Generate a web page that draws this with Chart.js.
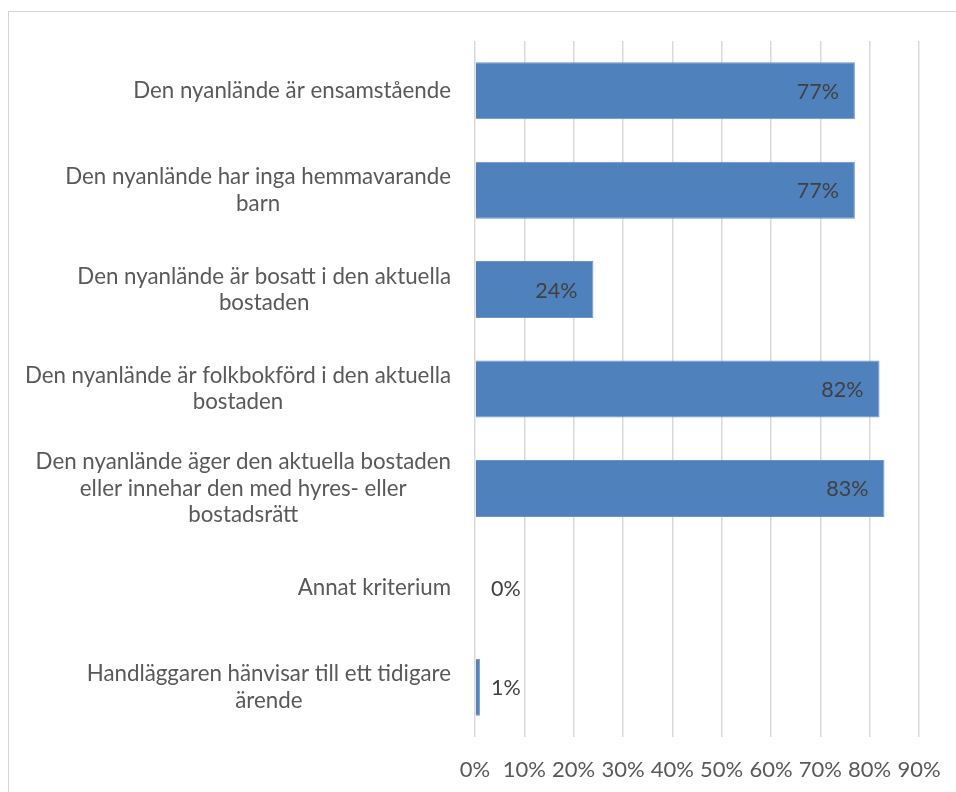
<!DOCTYPE html>
<html>
<head>
<meta charset="utf-8">
<script src="https://cdn.jsdelivr.net/npm/chart.js@4"></script>
<style>
    html, body { margin: 0; padding: 0; background: #fff; overflow: hidden; }
    #frame { position: absolute; left: 8px; top: 11px; width: 1000px; height: 900px; border: 1px solid #d4d4d4; }
    #wrap { position: absolute; left: 0; top: 0; width: 956px; height: 792px; }
</style>
</head>
<body>
<div id="frame"></div>
<div id="wrap"><canvas id="criteriaChart"></canvas></div>
<script>
const categories = [
    ["Den nyanlände är ensamstående"],
    ["Den nyanlände har inga hemmavarande", "barn"],
    ["Den nyanlände är bosatt i den aktuella", "bostaden"],
    ["Den nyanlände är folkbokförd i den aktuella", "bostaden"],
    ["Den nyanlände äger den aktuella bostaden", "eller innehar den med hyres- eller", "bostadsrätt"],
    ["Annat kriterium"],
    ["Handläggaren hänvisar till ett tidigare", "ärende"]
];
const shares = [77, 77, 24, 82, 83, 0, 1];
const xTicks = [0, 10, 20, 30, 40, 50, 60, 70, 80, 90];

const FONT = "Lato, 'Open Sans', sans-serif";

// category labels: block right-aligned to the axis, lines centred inside the block
const categoryLabels = {
    id: "categoryLabels",
    afterDraw(chart) {
        const c = chart.ctx;
        const yScale = chart.scales.y;
        const right = chart.chartArea.left - 24;
        const lh = 26.5;
        c.save();
        c.font = "22.3px " + FONT;
        c.fillStyle = "#595959";
        c.textAlign = "center";
        c.textBaseline = "middle";
        categories.forEach(function (lines, i) {
            const cy = yScale.getPixelForValue(i);
            let maxW = 0;
            lines.forEach(function (l) { maxW = Math.max(maxW, c.measureText(l).width); });
            const cx = right - maxW / 2;
            const y0 = cy - (lines.length - 1) * lh / 2;
            lines.forEach(function (l, k) { c.fillText(l, cx, y0 + k * lh); });
        });
        c.restore();
    }
};

const valueLabels = {
    id: "valueLabels",
    afterDatasetsDraw(chart) {
        const c = chart.ctx;
        const meta = chart.getDatasetMeta(0);
        const base = chart.scales.x.getPixelForValue(0);
        c.save();
        c.font = "21.5px " + FONT;
        c.fillStyle = "#404040";
        c.textBaseline = "middle";
        meta.data.forEach(function (bar, i) {
            const v = shares[i];
            if (v < 5) {
                c.textAlign = "left";
                c.fillText(v + "%", base + 16, bar.y + 1);
            } else {
                c.textAlign = "right";
                c.fillText(v + "%", bar.x - 16, bar.y + 1);
            }
        });
        c.restore();
    }
};

new Chart(document.getElementById("criteriaChart"), {
    type: "bar",
    data: {
        labels: categories.map(function (l) { return l.join(" "); }),
        datasets: [{
            data: shares,
            backgroundColor: "#4f81bd",
            borderColor: "#6b93c6",
            borderWidth: 1,
            categoryPercentage: 1,
            barPercentage: 0.573
        }]
    },
    options: {
        indexAxis: "y",
        responsive: true,
        maintainAspectRatio: false,
        animation: false,
        layout: { padding: { left: 475, right: 37, top: 41, bottom: 0 } },
        plugins: { legend: { display: false }, tooltip: { enabled: false } },
        scales: {
            x: {
                min: 0,
                max: 90,
                afterBuildTicks: function (scale) {
                    scale.ticks = xTicks.map(function (v) { return { value: v }; });
                },
                grid: { color: "#d9d9d9", lineWidth: 1.5, drawTicks: false },
                border: { display: false },
                ticks: {
                    padding: 20,
                    color: "#595959",
                    font: { family: FONT, size: 22 },
                    callback: function (v) { return v + "%"; }
                },
                afterFit: function (scale) {
                    scale.height = 55;
                    scale.paddingLeft = 0;
                    scale.paddingRight = 0;
                }
            },
            y: {
                grid: { display: false },
                border: { display: false },
                ticks: { display: false },
                afterFit: function (scale) { scale.width = 0; }
            }
        }
    },
    plugins: [categoryLabels, valueLabels]
});
</script>
</body>
</html>
